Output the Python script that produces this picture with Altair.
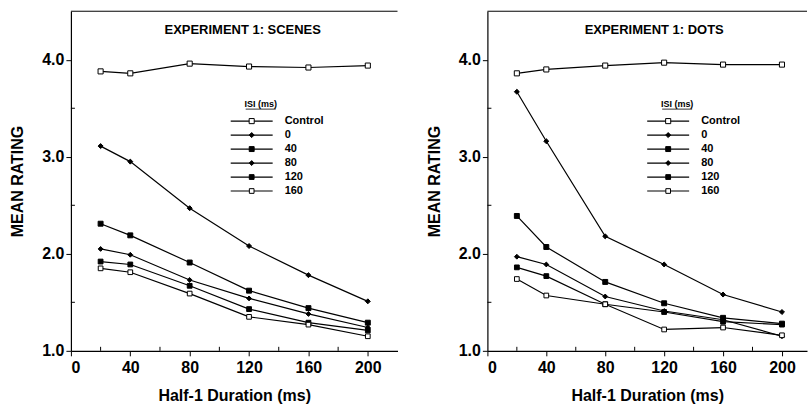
import altair as alt
import pandas as pd

durations = [20, 40, 80, 120, 160, 200]
series = ["Control", "0", "40", "80", "120", "160"]

scenes_control = [3.88, 3.86, 3.96, 3.93, 3.92, 3.94]
scenes_0 = [3.11, 2.95, 2.47, 2.08, 1.78, 1.51]
scenes_40 = [2.31, 2.19, 1.91, 1.62, 1.44, 1.29]
scenes_80 = [2.05, 1.99, 1.73, 1.54, 1.38, 1.24]
scenes_120 = [1.92, 1.89, 1.67, 1.43, 1.29, 1.21]
scenes_160 = [1.85, 1.81, 1.59, 1.35, 1.27, 1.15]

dots_control = [3.86, 3.90, 3.94, 3.97, 3.95, 3.95]
dots_0 = [3.67, 3.16, 2.18, 1.89, 1.58, 1.40]
dots_40 = [2.39, 2.07, 1.71, 1.49, 1.34, 1.28]
dots_80 = [1.97, 1.89, 1.56, 1.41, 1.32, 1.15]
dots_120 = [1.86, 1.77, 1.48, 1.40, 1.30, 1.27]
dots_160 = [1.74, 1.57, 1.48, 1.22, 1.24, 1.16]

x_ticks = [0, 40, 80, 120, 160, 200]
x_minor = [20, 60, 100, 140, 180]
y_ticks = [1.0, 2.0, 3.0, 4.0]
y_minor = [1.5, 2.5, 3.5]

FONT = "Liberation Sans"
shape_scale = alt.Scale(domain=series, range=["square", "diamond", "square", "diamond", "square", "square"])
fill_scale = alt.Scale(domain=series, range=["white", "black", "black", "black", "black", "white"])
size_scale = alt.Scale(domain=series, range=[26, 22, 34, 22, 34, 26])


def long_df(cols):
    rows = []
    for s, vals in zip(series, cols):
        for d, v in zip(durations, vals):
            rows.append({"duration": d, "rating": v, "series": s})
    return pd.DataFrame(rows)


def panel(cols, title, xmax, width, title_x, height=340):
    df = long_df(cols)
    ysc = alt.Scale(domain=[1.0, 4.5], nice=False, zero=False)
    xsc = alt.Scale(domain=[0, xmax], nice=False, zero=False)
    X = alt.X("duration:Q", scale=xsc,
              axis=alt.Axis(values=x_ticks, format="d", title="Half-1 Duration (ms)",
                            tickSize=5, labelPadding=4, titlePadding=12))
    Y = alt.Y("rating:Q", scale=ysc,
              axis=alt.Axis(values=y_ticks, format=".1f", title="MEAN RATING",
                            tickSize=5, labelPadding=2, titlePadding=16))
    Yn = alt.Y("rating:Q", scale=ysc, axis=None)

    lines = alt.Chart(df).mark_line(color="black", strokeWidth=1.2).encode(
        x=X, y=Y, detail="series:N")
    pts = alt.Chart(df).mark_point(filled=True, stroke="black", strokeWidth=1, opacity=1).encode(
        x=X, y=Yn,
        shape=alt.Shape("series:N", scale=shape_scale, legend=None),
        fill=alt.Fill("series:N", scale=fill_scale, legend=None),
        size=alt.Size("series:N", scale=size_scale, legend=None))

    top = alt.Chart(pd.DataFrame({"a": [0]})).mark_rule(color="black", strokeWidth=1).encode(
        x=alt.value(0), x2=alt.value(width), y=alt.value(0))
    xm = alt.Chart(pd.DataFrame({"duration": x_minor})).mark_rule(color="black").encode(
        x=X, y=alt.value(height), y2=alt.value(height - 4))
    ym = alt.Chart(pd.DataFrame({"rating": y_minor})).mark_rule(color="black").encode(
        y=Yn, x=alt.value(0), x2=alt.value(4))

    ttl = alt.Chart(pd.DataFrame({"t": [title]})).mark_text(
        font=FONT, fontWeight="bold", fontSize=13, align="center", baseline="middle").encode(
        x=alt.value(title_x), y=alt.value(19), text="t:N")

    leg = pd.DataFrame({"series": series})
    LY = alt.Y("series:N", scale=alt.Scale(type="point", domain=series, range=[110, 180], padding=0), axis=None)
    hdr = alt.Chart(pd.DataFrame({"t": ["ISI (ms)"]})).mark_text(
        font=FONT, fontWeight="bold", fontSize=9, align="center", baseline="middle").encode(
        x=alt.value(190), y=alt.value(93), text="t:N")
    hdr_u = alt.Chart(pd.DataFrame({"a": [0]})).mark_rule(color="black", strokeWidth=0.8).encode(
        x=alt.value(175), x2=alt.value(205), y=alt.value(98))
    leg_line = alt.Chart(leg).mark_rule(color="black", strokeWidth=1.2).encode(
        y=LY, x=alt.value(160), x2=alt.value(202))
    leg_pts = alt.Chart(leg).mark_point(filled=True, stroke="black", strokeWidth=1, opacity=1).encode(
        y=LY, x=alt.value(181),
        shape=alt.Shape("series:N", scale=shape_scale, legend=None),
        fill=alt.Fill("series:N", scale=fill_scale, legend=None),
        size=alt.Size("series:N", scale=size_scale, legend=None))
    leg_txt = alt.Chart(leg).mark_text(
        font=FONT, fontWeight="bold", fontSize=11, align="left", baseline="middle").encode(
        y=LY, x=alt.value(214), text="series:N")

    return alt.layer(lines, pts, top, xm, ym, ttl, hdr, hdr_u, leg_line, leg_pts, leg_txt).resolve_scale(
        y="independent").properties(width=width, height=height)


left = panel([scenes_control, scenes_0, scenes_40, scenes_80, scenes_120, scenes_160],
             "EXPERIMENT 1: SCENES", 220, 327, 172)
right = panel([dots_control, dots_0, dots_40, dots_80, dots_120, dots_160],
              "EXPERIMENT 1: DOTS", 217, 320, 167)

chart = alt.hconcat(left, right, spacing=27).properties(
    padding={"left": 9, "top": 10, "right": 0, "bottom": 0}
).configure_view(stroke=None).configure_axis(
    labelFont=FONT, labelFontWeight="bold", labelFontSize=16, labelColor="black",
    titleFont=FONT, titleFontWeight="bold", titleFontSize=16, titleColor="black",
    domainColor="black", tickColor="black", grid=False, domainWidth=1.2
)

chart.save("out.html", embed_options={"renderer": "svg", "actions": False})
